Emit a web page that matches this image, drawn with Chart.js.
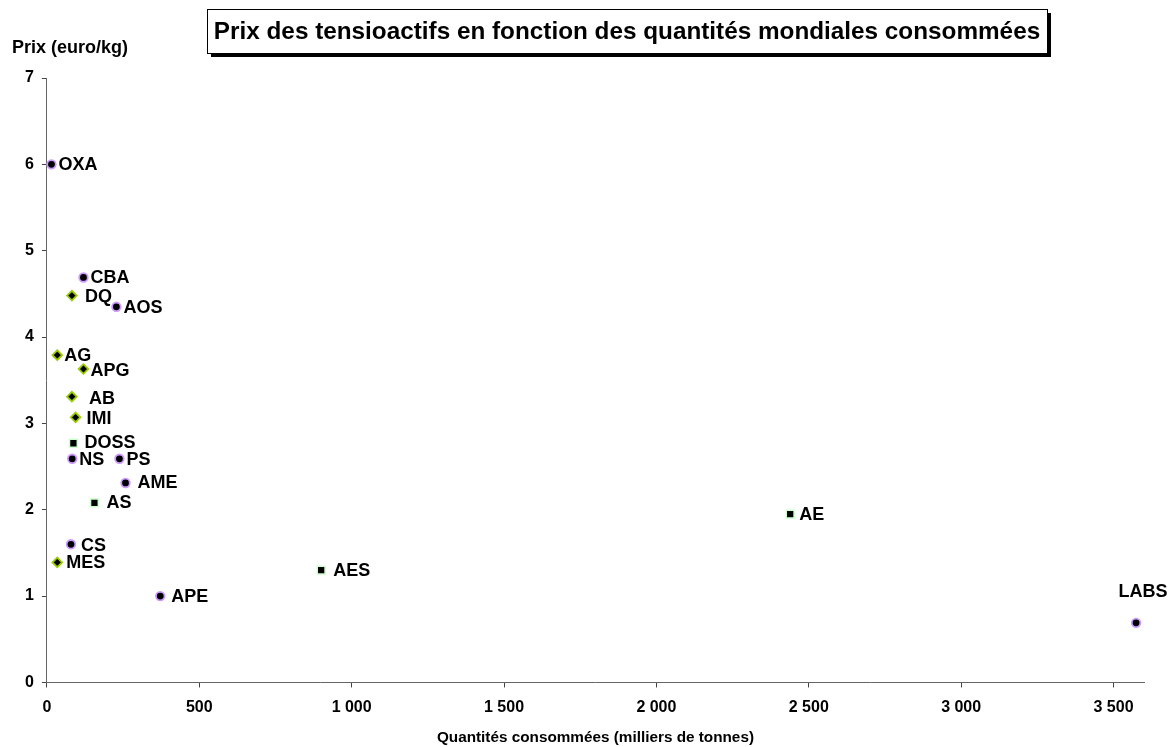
<!DOCTYPE html>
<html>
<head>
<meta charset="utf-8">
<script src="https://cdn.jsdelivr.net/npm/chart.js@4/dist/chart.umd.min.js"></script>
<style>
  html, body { margin: 0; padding: 0; background: #fff; }
  #wrap { width: 1173px; height: 747px; }
</style>
</head>
<body>
<div id="wrap"><canvas id="chart" width="1173" height="747"></canvas></div>
<script>
// Valeurs : quantités (milliers de tonnes) et prix (euro/kg)
const circleNames = ['OXA', 'CBA', 'AOS', 'NS', 'PS', 'AME', 'CS', 'APE', 'LABS'];
const circleQty   = [15, 120, 228, 83, 238, 258, 79, 372, 3574];
const circlePrice = [6.0, 4.69, 4.35, 2.59, 2.59, 2.31, 1.60, 1.00, 0.69];

const diamondNames = ['DQ', 'AG', 'APG', 'AB', 'IMI', 'MES'];
const diamondQty   = [82, 34, 120, 82, 94, 34];
const diamondPrice = [4.48, 3.79, 3.63, 3.31, 3.07, 1.39];

const squareNames = ['DOSS', 'AS', 'AES', 'AE'];
const squareQty   = [87, 156, 900, 2439];
const squarePrice = [2.77, 2.08, 1.30, 1.95];

const xTicks = [0, 500, 1000, 1500, 2000, 2500, 3000, 3500];
const yTicks = [0, 1, 2, 3, 4, 5, 6, 7];

const chartTitle = 'Prix des tensioactifs en fonction des quantités mondiales consommées';
const xTitle = 'Quantités consommées (milliers de tonnes)';
const yTitle = 'Prix (euro/kg)';

const FONT = '"Liberation Sans", Arial, sans-serif';

// décalage des étiquettes (à droite du point par défaut)
const labelNudge = {
  DQ: [13, 1], AB: [17, 2], IMI: [11, 2], DOSS: [11, 0], AME: [12, 0],
  AS: [12, 0], CS: [10, 2], MES: [9, 1], APE: [11, 1], AES: [12, 1],
  AE: [9, 1], APG: [7, 2], LABS: 'above'
};

function toPoints(xs, ys, names) {
  return xs.map((x, i) => ({ x: x, y: ys[i], name: names[i] }));
}

function spaced(v) {
  return String(v).replace(/\B(?=(\d{3})+(?!\d))/g, ' ');
}

// étiquettes des points
const pointLabels = {
  id: 'pointLabels',
  afterDatasetsDraw(chart) {
    const ctx = chart.ctx;
    ctx.save();
    ctx.font = 'bold 18px ' + FONT;
    ctx.fillStyle = '#000';
    ctx.textBaseline = 'middle';
    chart.data.datasets.forEach((ds, di) => {
      const meta = chart.getDatasetMeta(di);
      meta.data.forEach((el, i) => {
        const name = ds.data[i].name;
        const nudge = labelNudge[name];
        if (nudge === 'above') {
          ctx.textAlign = 'center';
          ctx.fillText(name, el.x + 7, el.y - 31);
        } else {
          const d = nudge || [7, 1];
          ctx.textAlign = 'left';
          ctx.fillText(name, el.x + d[0], el.y + d[1]);
        }
      });
    });
    ctx.restore();
  }
};

// titre encadré avec ombre + titre de l'axe vertical
const titleBox = {
  id: 'titleBox',
  afterDraw(chart) {
    const ctx = chart.ctx;
    ctx.save();
    ctx.fillStyle = '#000';
    ctx.fillRect(211, 13, 840, 44);
    ctx.fillStyle = '#fff';
    ctx.fillRect(207, 9, 840, 44);
    ctx.strokeStyle = '#000';
    ctx.lineWidth = 1;
    ctx.strokeRect(207.5, 9.5, 840, 44);
    ctx.fillStyle = '#000';
    ctx.font = 'bold 24.3px ' + FONT;
    ctx.textAlign = 'center';
    ctx.textBaseline = 'middle';
    ctx.fillText(chartTitle, 627, 32);

    ctx.font = 'bold 18px ' + FONT;
    ctx.textAlign = 'left';
    ctx.fillText(yTitle, 12, 48);
    ctx.restore();
  }
};

const chartCanvas = document.getElementById('chart');

new Chart(chartCanvas, {
  type: 'scatter',
  data: {
    datasets: [
      {
        label: 'cercles',
        data: toPoints(circleQty, circlePrice, circleNames),
        pointStyle: 'circle',
        pointRadius: 4.3,
        pointBorderWidth: 1.8,
        backgroundColor: '#000',
        borderColor: '#cc99ff',
        clip: false
      },
      {
        label: 'losanges',
        data: toPoints(diamondQty, diamondPrice, diamondNames),
        pointStyle: 'rectRot',
        pointRadius: 4.8,
        pointBorderWidth: 1.8,
        backgroundColor: '#000',
        borderColor: '#99cc00',
        clip: false
      },
      {
        label: 'carres',
        data: toPoints(squareQty, squarePrice, squareNames),
        pointStyle: 'rect',
        pointRadius: 5.5,
        pointBorderWidth: 1.5,
        backgroundColor: '#000',
        borderColor: '#ccffcc',
        clip: false
      }
    ]
  },
  options: {
    responsive: false,
    animation: false,
    layout: { padding: { top: 78, left: 17, right: 29, bottom: 0 } },
    plugins: {
      legend: { display: false },
      tooltip: { enabled: false },
      title: { display: false }
    },
    scales: {
      x: {
        type: 'linear',
        min: 0,
        max: 3600,
        afterBuildTicks: (scale) => {
          scale.ticks = xTicks.map(v => ({ value: v }));
        },
        border: { display: true, color: '#666', width: 1 },
        grid: { display: true, drawOnChartArea: false, drawTicks: true, tickLength: 5, color: '#444' },
        ticks: {
          color: '#000',
          font: { family: FONT, size: 16, weight: 'bold' },
          padding: 11,
          maxRotation: 0,
          callback: (v) => spaced(v)
        },
        title: {
          display: true,
          text: xTitle,
          color: '#000',
          font: { family: FONT, size: 15.3, weight: 'bold' },
          padding: { top: 0, bottom: 0 }
        }
      },
      y: {
        type: 'linear',
        min: 0,
        max: 7,
        afterBuildTicks: (scale) => {
          scale.ticks = yTicks.map(v => ({ value: v }));
        },
        border: { display: true, color: '#666', width: 1 },
        grid: { display: true, drawOnChartArea: false, drawTicks: true, tickLength: 5, color: '#444' },
        ticks: {
          color: '#000',
          font: { family: FONT, size: 16, weight: 'bold' },
          padding: 8
        }
      }
    }
  },
  plugins: [pointLabels, titleBox]
});
</script>
</body>
</html>
